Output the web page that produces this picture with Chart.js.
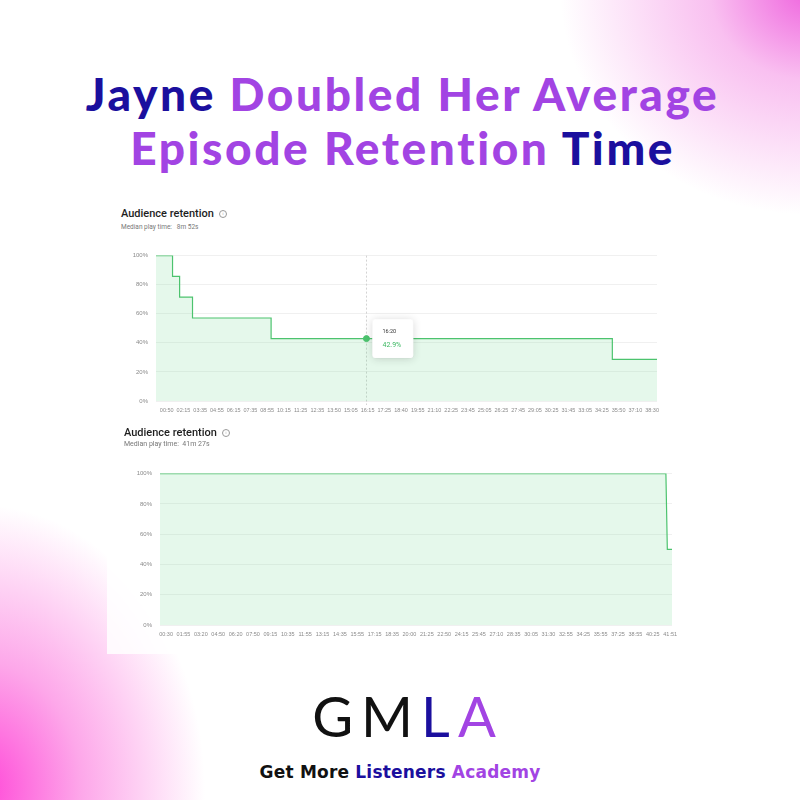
<!DOCTYPE html>
<html>
<head>
<meta charset="utf-8">
<script src="https://cdn.jsdelivr.net/npm/chart.js@4.4.1/dist/chart.umd.min.js"></script>
<style>
html, body { margin: 0; padding: 0; }
body { width: 800px; height: 800px; position: relative; overflow: hidden; background: #fff; font-family: Lato, sans-serif; }
.abs { position: absolute; }
#glowTR { left: 0; top: 0; width: 800px; height: 800px;
  background: radial-gradient(ellipse 250px 225px at 810px -10px, rgba(238,90,220,0.95) 0%, rgba(244,140,228,0.55) 40%, rgba(255,255,255,0) 100%); }
#glowBL { left: 0; top: 0; width: 800px; height: 800px;
  background: radial-gradient(ellipse 225px 285px at -20px 790px, rgba(255,70,215,1) 0%, rgba(252,120,222,0.65) 45%, rgba(255,255,255,0) 100%); }
.title { left: 0; top: 67px; width: 800px; text-align: center; font-weight: 900; font-size: 46px; line-height: 54px; letter-spacing: 2.6px; padding-left: 2.6px; }
.blue { color: #1b0f9e; }
.purple { color: #a244e3; }
.hd { font-family: Roboto, sans-serif; font-weight: 500; color: #1e1e1e; white-space: nowrap; }
.info { display: inline-block; border: 0.8px solid #999; border-radius: 50%; color: #999; text-align: center; font-weight: 400; vertical-align: middle; margin-left: 5px; }
.sub { font-family: Roboto, sans-serif; color: #777; white-space: nowrap; }
#panel2 { left: 107px; top: 419px; width: 574px; height: 235px; background: rgba(255,255,255,0.85); }
.logo { left: 0; width: 800px; text-align: center; }
</style>
</head>
<body>
<div id="glowTR" class="abs"></div>
<div id="glowBL" class="abs"></div>

<div class="abs title">
  <span class="blue">Jayne</span> <span class="purple">Doubled Her Average</span><br>
  <span class="purple">Episode Retention</span> <span class="blue">Time</span>
</div>

<div class="abs hd" style="left:121px; top:207px; font-size:11px;">Audience retention<span class="info" style="width:6px;height:6px;font-size:4px;line-height:6px;">i</span></div>
<div class="abs sub" style="left:121px; top:223px; font-size:6.5px;">Median play time:&nbsp;&nbsp; 8m 52s</div>
<div class="abs" style="left:110px; top:244px; width:556px; height:177px;"><canvas id="chart1"></canvas></div>

<div id="panel2" class="abs"></div>
<div class="abs hd" style="left:124px; top:426px; font-size:11px;">Audience retention<span class="info" style="width:6px;height:6px;font-size:4px;line-height:6px;">i</span></div>
<div class="abs sub" style="left:124px; top:440px; font-size:7px;">Median play time:&nbsp; 41m 27s</div>
<div class="abs" style="left:110px; top:462px; width:576px; height:183px;"><canvas id="chart2"></canvas></div>

<div class="abs logo" style="top:688px; font-size:56px; line-height:56px; font-weight:400; letter-spacing:8px; padding-left:8px;">
  <span style="color:#111">GM</span><span class="blue">L</span><span class="purple">A</span>
</div>
<div class="abs logo" style="top:764px; font-family:'DejaVu Sans', sans-serif; font-size:17px; line-height:17px; font-weight:700; letter-spacing:0.2px;">
  <span style="color:#111">Get More</span> <span class="blue">Listeners</span> <span class="purple">Academy</span>
</div>

<script>
// episode 1 (before)
const labels1 = ['00:50', '02:15', '03:35', '04:55', '06:15', '07:35', '08:55', '10:15', '11:25', '12:35',
  '13:50', '15:05', '16:15', '17:25', '18:40', '19:55', '21:10', '22:25', '23:45', '25:05',
  '26:25', '27:45', '29:05', '30:25', '31:45', '33:05', '34:25', '35:50', '37:10', '38:30'];
const time1 = [0, 77, 110, 170, 536, 980, 2125, 2333];        // seconds
const retention1 = [100, 85.7, 71.4, 57.1, 42.9, 42.9, 28.6, 28.6];
const hoverIndex1 = 5; // 16:20 -> 42.9%

// episode 2 (after)
const labels2 = ['00:30', '01:55', '03:20', '04:50', '06:20', '07:50', '09:15', '10:35', '11:55', '13:15',
  '14:35', '15:55', '17:15', '18:35', '20:00', '21:25', '22:50', '24:15', '25:45', '27:10',
  '28:35', '30:05', '31:30', '32:55', '34:25', '35:55', '37:25', '38:55', '40:25', '41:51'];
const time2 = [0, 2490, 2497, 2520];
const retention2 = [100, 100, 50, 50];

const yTicks = [0, 20, 40, 60, 80, 100];

const green = '#4cc36e';

function toSec(s) {
  const p = s.split(':').map(Number);
  return p[0] * 60 + p[1];
}
function fmt(sec) {
  const m = Math.floor(sec / 60), s = Math.round(sec % 60);
  return String(m).padStart(2, '0') + ':' + String(s).padStart(2, '0');
}

const hoverLine = {
  id: 'hoverLine',
  beforeDatasetsDraw(chart) {
    const act = chart.tooltip && chart.tooltip.getActiveElements();
    if (!act || !act.length) return;
    const x = act[0].element.x;
    const ctx = chart.ctx, a = chart.chartArea;
    ctx.save();
    ctx.strokeStyle = '#c8c8c8';
    ctx.lineWidth = 0.8;
    ctx.setLineDash([2, 2]);
    ctx.beginPath();
    ctx.moveTo(x, a.top);
    ctx.lineTo(x, a.bottom + 4);
    ctx.stroke();
    ctx.restore();
  },
  beforeTooltipDraw(chart, args) {
    const t = args.tooltip;
    if (!t.opacity) return;
    const ctx = chart.ctx;
    ctx.save();
    ctx.shadowColor = 'rgba(0,0,0,0.16)';
    ctx.shadowBlur = 8;
    ctx.shadowOffsetY = 1;
    ctx.fillStyle = '#fff';
    ctx.beginPath();
    ctx.roundRect(t.x, t.y, t.width, t.height, 3);
    ctx.fill();
    ctx.restore();
  }
};

function makeChart(id, times, values, labels, yWidth, padRight, stepped) {
  const first = toSec(labels[0]), last = toSec(labels[labels.length - 1]);
  const n = labels.length;
  return new Chart(document.getElementById(id), {
    type: 'line',
    data: {
      datasets: [{
        data: times.map((t, i) => ({ x: t, y: values[i] })),
        borderColor: green,
        borderWidth: 1.2,
        backgroundColor: 'rgba(80,205,120,0.15)',
        fill: 'origin',
        stepped: stepped,
        tension: 0,
        pointRadius: 0,
        pointHoverRadius: 3,
        pointBackgroundColor: green,
        pointBorderColor: green,
        pointHoverBackgroundColor: green,
        pointHoverBorderColor: green
      }]
    },
    options: {
      responsive: true,
      maintainAspectRatio: false,
      animation: false,
      events: [],
      layout: { padding: { top: 10, right: padRight, bottom: 0, left: 0 } },
      plugins: {
        legend: { display: false },
        tooltip: {
          backgroundColor: '#fff',
          borderColor: 'rgba(0,0,0,0.04)',
          borderWidth: 0.5,
          titleColor: '#333',
          titleFont: { family: 'Roboto', size: 5.5, weight: 'normal' },
          bodyColor: '#3cb862',
          bodyFont: { family: 'Roboto', size: 7 },
          padding: { left: 10, right: 12, top: 9, bottom: 9 },
          titleMarginBottom: 6,
          displayColors: false,
          caretSize: 0,
          caretPadding: 6,
          cornerRadius: 3,
          xAlign: 'left',
          yAlign: 'center',
          callbacks: {
            title: items => fmt(items[0].parsed.x),
            label: item => item.parsed.y.toFixed(1) + '%'
          }
        }
      },
      scales: {
        x: {
          type: 'linear',
          min: 0,
          max: times[times.length - 1],
          grid: { display: false, drawTicks: false },
          border: { display: false },
          afterBuildTicks: axis => {
            axis.ticks = labels.map((l, i) => ({ value: first + i * (last - first) / (n - 1) }));
          },
          afterFit: axis => { axis.height = 20; axis.paddingLeft = 0; axis.paddingRight = 0; },
          ticks: {
            autoSkip: false,
            maxRotation: 0,
            padding: 6,
            color: '#8a8a8a',
            font: { family: 'Liberation Sans', size: 5.5 },
            callback: (v, i) => labels[i]
          }
        },
        y: {
          min: 0,
          max: 100,
          afterBuildTicks: axis => { axis.ticks = yTicks.map(v => ({ value: v })); },
          afterFit: axis => { axis.width = yWidth; },
          grid: { color: '#ececec', lineWidth: 0.8, drawTicks: false },
          border: { display: false },
          ticks: {
            padding: 8,
            color: '#8a8a8a',
            font: { family: 'Liberation Sans', size: 6 },
            callback: v => v + '%'
          }
        }
      }
    },
    plugins: [hoverLine]
  });
}

const chart1 = makeChart('chart1', time1, retention1, labels1, 46, 9, true);
const chart2 = makeChart('chart2', time2, retention2, labels2, 50, 14, false);

const active = [{ datasetIndex: 0, index: hoverIndex1 }];
chart1.setActiveElements(active);
chart1.tooltip.setActiveElements(active, { x: 0, y: 0 });
chart1.update();
</script>
</body>
</html>
